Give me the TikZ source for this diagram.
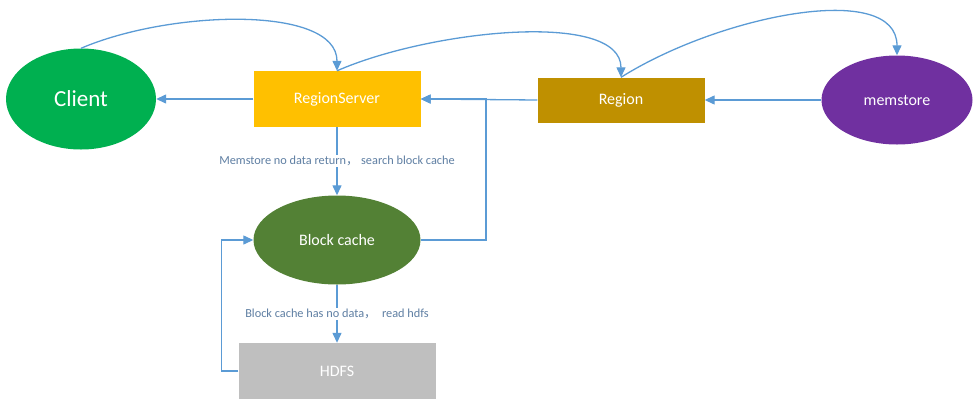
\documentclass[tikz,border=0pt]{standalone}
\usepackage{fontspec}
\setmainfont{Carlito}
\newfontfamily\cjkfont{Noto Sans CJK SC}
\usetikzlibrary{shapes.geometric,arrows.meta}

\definecolor{clientgreen}{HTML}{00B050}
\definecolor{rsyellow}{HTML}{FFC000}
\definecolor{regiongold}{HTML}{BF9000}
\definecolor{mspurple}{HTML}{7030A0}
\definecolor{bcgreen}{HTML}{538135}
\definecolor{hdfsgray}{HTML}{BFBFBF}
\definecolor{flowblue}{HTML}{5B9BD5}
\definecolor{notegray}{HTML}{5F7FA3}

\begin{document}
\begin{tikzpicture}[x=1pt,y=-1pt,
    flow/.style={draw=flowblue,line width=1.3pt,-{Triangle[length=10pt,width=9pt]}},
    oval/.style={ellipse,inner sep=0pt,text=white,font=\fontsize{16}{16}\selectfont},
    box/.style={rectangle,inner sep=0pt,text=white,font=\fontsize{16}{16}\selectfont},
    note/.style={fill=white,inner sep=1pt,text=notegray,font=\fontsize{12.3}{12.3}\selectfont}]
    \useasboundingbox (0,0) rectangle (980,408);

    % top row
    \node[oval,fill=clientgreen,minimum width=150pt,minimum height=101pt,
          font=\fontsize{23}{23}\selectfont] (client) at (81,99) {Client};
    \node[box,fill=rsyellow,minimum width=167pt,minimum height=56pt] (rs) at (337,99) {RegionServer};
    \node[box,fill=regiongold,minimum width=167pt,minimum height=45pt] (region) at (621,100) {Region};
    \node[oval,fill=mspurple,minimum width=151pt,minimum height=89pt] (mem) at (897,100) {memstore};

    % lower column
    \node[oval,fill=bcgreen,minimum width=167pt,minimum height=89pt] (bc) at (337,240) {Block cache};
    \node[box,fill=hdfsgray,minimum width=197pt,minimum height=56pt] (hdfs) at (337,371) {HDFS};
    \coordinate (join) at (486,99);

    % request path (curves over the top)
    \draw[flow] (client.north) .. controls (170,10) and (337,5) .. (rs.north);
    \draw[flow] (rs.north) .. controls (430,30) and (621,10) .. (region.north);
    \draw[flow] (region.north) .. controls (720,15) and (897,-20) .. (mem.north);

    % answers back
    \draw[flow] (mem.west) -- (region.east);
    \draw[flow] (region.west) -- (rs.east);
    \draw[flow] (rs.west) -- (client.east);

    \draw[flow] (rs.south) -- (bc.north)
        node[midway,note] {Memstore no data return{\cjkfont ，}\ search block cache};
    \draw[flow] (bc.south) -- (hdfs.north)
        node[midway,note] {Block cache has no data{\cjkfont ，}\ \ read hdfs};
    \draw[flow] (hdfs.west) -- ++(-17,0) |- (bc.west);
    \draw[flow] (bc.east) -| (join) -- (rs.east);
\end{tikzpicture}
\end{document}
